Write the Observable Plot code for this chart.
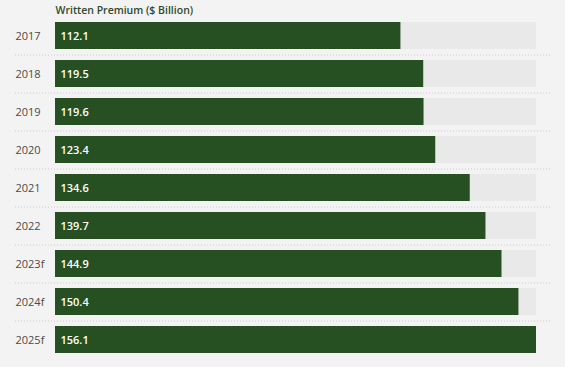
<!DOCTYPE html>
<html>
<head>
<meta charset="utf-8">
<script src="https://cdn.jsdelivr.net/npm/d3@7"></script>
<script src="https://cdn.jsdelivr.net/npm/@observablehq/plot@0.6"></script>
<style>
  html, body { margin: 0; padding: 0; background: #f3f3f3; }
  #chart svg { display: block; background: #f3f3f3; }
</style>
</head>
<body>
<div id="chart"></div>
<script>
const years = ["2017", "2018", "2019", "2020", "2021", "2022", "2023f", "2024f", "2025f"];
const premiums = [112.1, 119.5, 119.6, 123.4, 134.6, 139.7, 144.9, 150.4, 156.1];
const title = "Written Premium ($ Billion)";

const data = years.map((y, i) => ({year: y, value: premiums[i]}));
const maxVal = d3.max(premiums);
const font = "'Open Sans', 'Noto Sans', sans-serif";

const chart = Plot.plot({
  width: 565,
  height: 367,
  marginLeft: 15,
  marginRight: 15,
  marginTop: 16,
  marginBottom: 9,
  style: {background: "#f3f3f3", fontFamily: font},
  x: {domain: [0, maxVal], range: [55, 536], axis: null},
  y: {domain: years, padding: 0.29, paddingOuter: 0.145, axis: null},
  marks: [
    Plot.ruleY(years.slice(0, -1), {y: d => d, dy: 19, stroke: "#cccccc", strokeDasharray: "1,2", strokeWidth: 1}),
    Plot.barX(data, {y: "year", x: () => maxVal, fill: "#e9e9e9"}),
    Plot.barX(data, {y: "year", x: "value", fill: "#265022"}),
    Plot.text(data, {y: "year", text: "year", frameAnchor: "left", textAnchor: "start", fill: "#4a4a4a", fontSize: 11}),
    Plot.text(data, {y: "year", x: 0, text: d => d.value.toFixed(1), textAnchor: "start", dx: 5, fill: "white", fontSize: 11, fontWeight: 600}),
    Plot.text([title], {x: 0, text: d => d, frameAnchor: "top", lineAnchor: "middle", textAnchor: "start", dy: -6, fill: "#2f4a2c", fontSize: 10.5, fontWeight: 600})
  ]
});
document.getElementById("chart").appendChild(chart);
</script>
</body>
</html>
